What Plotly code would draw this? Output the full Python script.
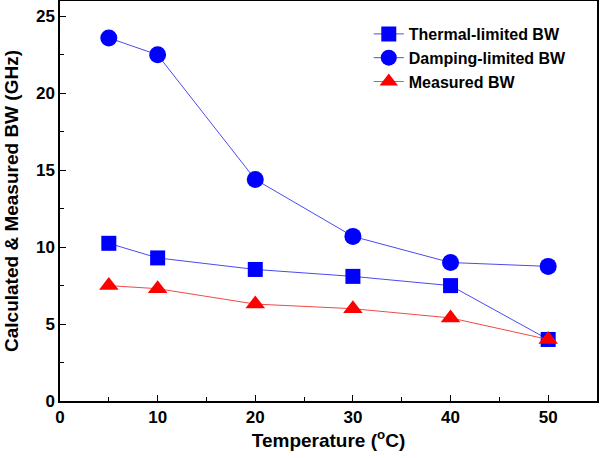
import plotly.graph_objects as go

# --- Data ---
temps = [5, 10, 20, 30, 40, 50]
thermal_bw = [10.25, 9.3, 8.55, 8.1, 7.5, 4.0]
damping_bw = [23.6, 22.5, 14.4, 10.7, 9.0, 8.75]
measured_bw = [7.5, 7.3, 6.3, 6.0, 5.4, 4.0]

font_family = "Arial, Liberation Sans, sans-serif"

fig = go.Figure()

fig.add_trace(go.Scatter(
    x=temps, y=thermal_bw, name="Thermal-limited BW", mode="lines+markers",
    line=dict(color="#4a4af0", width=1),
    marker=dict(symbol="square", size=15, color="#0000ff"),
))
fig.add_trace(go.Scatter(
    x=temps, y=damping_bw, name="Damping-limited BW", mode="lines+markers",
    line=dict(color="#4a4af0", width=1),
    marker=dict(symbol="circle", size=17, color="#0000ff"),
))
fig.add_trace(go.Scatter(
    x=temps, y=measured_bw, name="Measured BW", mode="lines+markers",
    line=dict(color="#f04a4a", width=1),
    marker=dict(symbol="triangle-up", size=17, color="#ff0000"),
))

axis_common = dict(
    showgrid=False, zeroline=False, showline=True, mirror=True,
    linecolor="black", linewidth=1.5, ticks="inside", ticklen=6,
    tickcolor="black", tickwidth=1.2, automargin=False,
    tickfont=dict(size=17, family=font_family, color="black", weight="bold"),
)

fig.update_layout(
    width=600, height=458,
    paper_bgcolor="white", plot_bgcolor="white",
    margin=dict(l=60, r=3, t=1, b=57),
    font=dict(family=font_family, color="black"),
    showlegend=True,
    legend=dict(
        x=0.575, y=0.96, xanchor="left", yanchor="top",
        bgcolor="rgba(0,0,0,0)", tracegroupgap=0,
        font=dict(size=16, family=font_family, color="black", weight="bold"),
    ),
    xaxis=dict(
        range=[0, 55], dtick=10,
        minor=dict(dtick=5, ticks="inside", ticklen=4, tickcolor="black"),
        title=dict(text="Temperature (<sup>o</sup>C)", standoff=8,
                   font=dict(size=19, family=font_family, weight="bold")),
        **axis_common,
    ),
    yaxis=dict(
        range=[0, 26], dtick=5,
        minor=dict(dtick=2.5, ticks="inside", ticklen=4, tickcolor="black"),
        title=dict(text="Calculated & Measured BW (GHz)", standoff=12,
                   font=dict(size=19, family=font_family, weight="bold")),
        **axis_common,
    ),
)

# page body has a default 8px margin; drop it so the figure sits at the corner
fig.write_html("out.html", config={"displayModeBar": False},
               post_script="document.body.style.margin='0';")
